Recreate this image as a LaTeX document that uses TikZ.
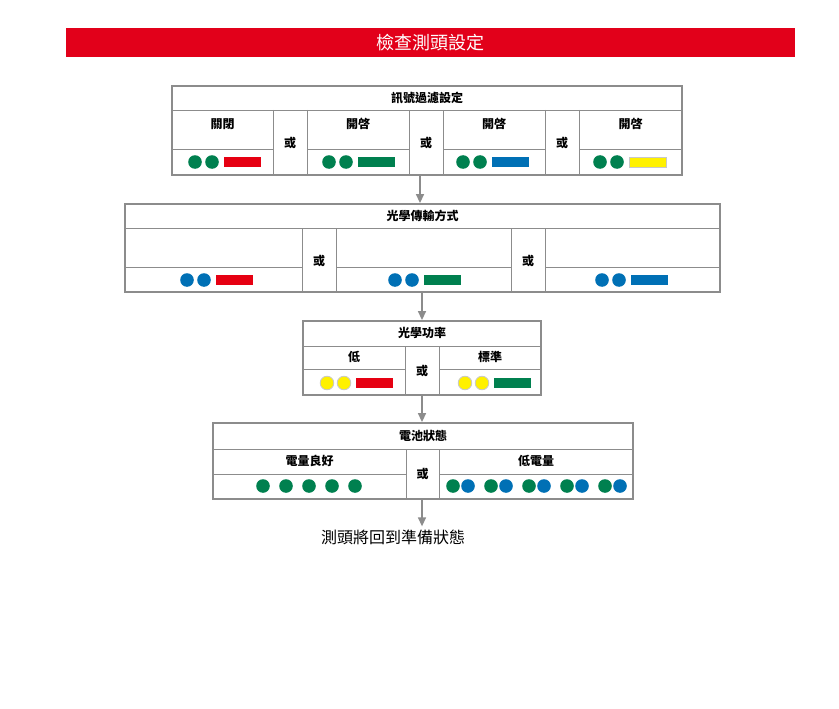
\documentclass[tikz,border=0pt]{standalone}
\usepackage{fontspec}
\setmainfont{Noto Sans CJK TC}
\usetikzlibrary{arrows.meta}
\definecolor{titlered}{HTML}{E2001A}
\definecolor{sigred}{HTML}{E60012}
\definecolor{siggreen}{HTML}{00804F}
\definecolor{sigblue}{HTML}{0070B5}
\definecolor{sigyellow}{HTML}{FFF100}
\definecolor{framegray}{HTML}{8C8C8C}
\definecolor{rimgray}{HTML}{C8C8C8}
\tikzset{
  frame/.style={draw=framegray, line width=1.8pt, inner sep=0pt},
  cellline/.style={draw=framegray, line width=0.9pt},
  label/.style={font=\fontsize{12}{14}\selectfont\bfseries, inner sep=0pt},
  flow/.style={draw=framegray, line width=1.4pt, -{Triangle[length=9pt,width=8pt]}},
  gdot/.style={fill=siggreen},
  bdot/.style={fill=sigblue},
  ydot/.style={fill=sigyellow, draw=rimgray, line width=0.8pt},
  rbar/.style={fill=sigred},
  gbar/.style={fill=siggreen},
  bbar/.style={fill=sigblue},
  ybar/.style={fill=sigyellow, draw=rimgray, line width=0.8pt},
}
% two dots and one bar: x of first dot, y, dot style, bar style
\newcommand{\signalrow}[4]{%
  \path[#3] (#1,#2) circle (6.8);
  \path[#3] (#1+17,#2) circle (6.8);
  \path[#4] (#1+29,#2-5) rectangle (#1+66,#2+5);
}
\begin{document}
\begin{tikzpicture}[x=1pt, y=-1pt]
    \useasboundingbox (0,0) rectangle (839,709);

    % title bar
    \node[fill=titlered, minimum width=729, minimum height=29, inner sep=0pt,
          text=white, font=\fontsize{18}{20}\selectfont] (title) at (430.5,42.5) {檢查測頭設定};

    % box 1: signal filter
    \node[frame, minimum width=510, minimum height=89] (filter) at (427,130.5) {};
    \node[label] (filterhead) at (427,98) {訊號過濾設定};
    \draw[cellline] (172,110) -- (682,110);
    \foreach \x in {273,307,409,443,545,579}
        \draw[cellline] (\x,110) -- (\x,175);
    \foreach \a/\b in {172/273,307/409,443/545,579/682}
        \draw[cellline] (\a,149) -- (\b,149);
    \node[label] (filteroff) at (222.5,124) {關閉};
    \node[label] (filteron1) at (358,124) {開啓};
    \node[label] (filteron2) at (494,124) {開啓};
    \node[label] (filteron3) at (630.5,124) {開啓};
    \foreach \x/\n in {290/a,426/b,562/c}
        \node[label] (filteror\n) at (\x,143) {或};
    \signalrow{195}{162}{gdot}{rbar}
    \signalrow{329}{162}{gdot}{gbar}
    \signalrow{463}{162}{gdot}{bbar}
    \signalrow{600}{162}{gdot}{ybar}
    \coordinate (filterout) at (420,175);

    % box 2: optical transmission
    \node[frame, minimum width=595, minimum height=88] (optics) at (422.5,248) {};
    \node[label] (opticshead) at (422.5,216) {光學傳輸方式};
    \draw[cellline] (125,228) -- (720,228);
    \foreach \x in {302,336,511,545}
        \draw[cellline] (\x,228) -- (\x,292);
    \foreach \a/\b in {125/302,336/511,545/720}
        \draw[cellline] (\a,267) -- (\b,267);
    \foreach \x/\n in {319/a,528/b}
        \node[label] (opticsor\n) at (\x,261) {或};
    \signalrow{187}{280}{bdot}{rbar}
    \signalrow{395}{280}{bdot}{gbar}
    \signalrow{602}{280}{bdot}{bbar}

    % box 3: optical power
    \node[frame, minimum width=238, minimum height=74] (power) at (422,358) {};
    \node[label] (powerhead) at (422,333) {光學功率};
    \draw[cellline] (303,346) -- (541,346);
    \foreach \x in {405,439}
        \draw[cellline] (\x,346) -- (\x,395);
    \draw[cellline] (303,369) -- (405,369);
    \draw[cellline] (439,369) -- (541,369);
    \node[label] (powerlow) at (354,357) {低};
    \node[label] (powerstd) at (490,357) {標準};
    \node[label] (poweror) at (422,371) {或};
    \signalrow{327}{383}{ydot}{rbar}
    \signalrow{465}{383}{ydot}{gbar}

    % box 4: battery
    \node[frame, minimum width=420, minimum height=76] (battery) at (423,461) {};
    \node[label] (batteryhead) at (423,436) {電池狀態};
    \draw[cellline] (213,449) -- (633,449);
    \foreach \x in {406,439}
        \draw[cellline] (\x,449) -- (\x,499);
    \draw[cellline] (213,474) -- (406,474);
    \draw[cellline] (439,474) -- (633,474);
    \node[label] (batterygood) at (309.5,461) {電量良好};
    \node[label] (batterylow) at (536,461) {低電量};
    \node[label] (batteryor) at (422.5,474) {或};
    \foreach \i in {0,...,4}
        \path[gdot] (263+23*\i,486) circle (6.8);
    \foreach \i in {0,...,4} {
        \path[gdot] (453+38*\i,486) circle (6.8);
        \path[bdot] (468+38*\i,486) circle (6.8);
    }

    % result
    \node[font=\fontsize{16}{18}\selectfont, inner sep=3pt] (ready) at (393,537) {測頭將回到準備狀態};

    % flow arrows
    \draw[flow] (filterout) -- (filterout |- optics.north);
    \draw[flow] (optics.south -| power.north) -- (power.north);
    \draw[flow] (power.south) -- (battery.north -| power.south);
    \draw[flow] (battery.south -| power.south) -- (power.south |- ready.north);
\end{tikzpicture}
\end{document}
